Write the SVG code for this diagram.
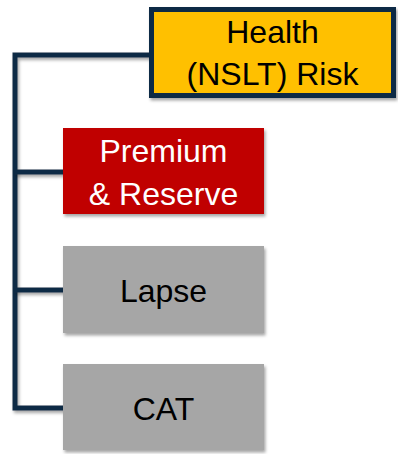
<svg xmlns="http://www.w3.org/2000/svg" width="398" height="454" viewBox="0 0 398 454">
<defs>
<filter id="sh" x="-10%" y="-10%" width="125%" height="130%">
<feDropShadow dx="1.5" dy="2.5" stdDeviation="1.8" flood-color="#000" flood-opacity="0.35"/>
</filter>
</defs>
<style>
.t{font-family:"Liberation Sans",Arial,sans-serif;font-size:32px;text-anchor:middle}
.conn{fill:none;stroke:#0F2B45;stroke-width:5;stroke-linejoin:miter}
</style>
<rect width="398" height="454" fill="#fff"/>
<g id="connectors">
<path class="conn" d="M151 55 H15 V408 H64" filter="url(#sh)"/>
<path class="conn" d="M15 172 H64 M15 290 H64" filter="url(#sh)"/>
</g>
<g id="health">
<rect x="151.5" y="9.5" width="242" height="86" fill="#FFC000" stroke="#0F2B45" stroke-width="5" filter="url(#sh)"/>
<text class="t" x="272.5" y="43" fill="#000">Health</text>
<text class="t" x="272.5" y="85" fill="#000">(NSLT) Risk</text>
</g>
<g id="premium">
<rect x="63" y="128" width="201" height="86" fill="#C00000" filter="url(#sh)"/>
<text class="t" x="163.5" y="162" fill="#fff">Premium</text>
<text class="t" x="163.5" y="205" fill="#fff">&amp; Reserve</text>
</g>
<g id="lapse">
<rect x="63" y="246" width="201" height="87" fill="#A6A6A6" filter="url(#sh)"/>
<text class="t" x="163.5" y="302" fill="#000">Lapse</text>
</g>
<g id="cat">
<rect x="63" y="364" width="201" height="86" fill="#A6A6A6" filter="url(#sh)"/>
<text class="t" x="163.5" y="420" fill="#000">CAT</text>
</g>
</svg>
